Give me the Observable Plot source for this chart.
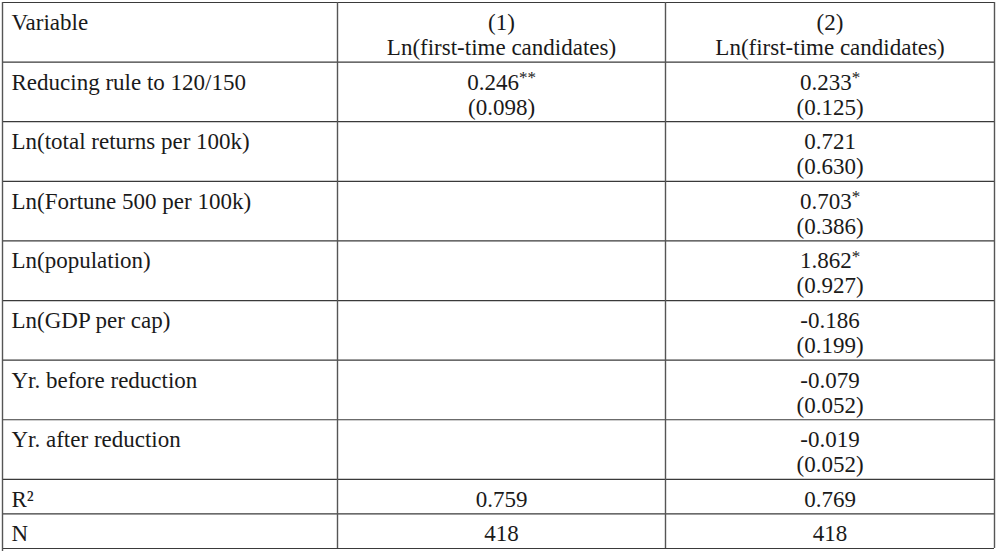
<!DOCTYPE html>
<html>
<head>
<meta charset="utf-8">
<script src="https://cdn.jsdelivr.net/npm/d3@7"></script>
<script src="https://cdn.jsdelivr.net/npm/@observablehq/plot@0.6"></script>
<style>
  body { margin: 0; background: #fff; }
</style>
</head>
<body>
<div id="table"></div>
<script>
const variables = ["Reducing rule to 120/150", "Ln(total returns per 100k)", "Ln(Fortune 500 per 100k)",
    "Ln(population)", "Ln(GDP per cap)", "Yr. before reduction", "Yr. after reduction"]
const models = ["(1)", "(2)"]
const depVar = "Ln(first-time candidates)"

// coeficientes y errores estandar por modelo
const coef1 = [0.246, null, null, null, null, null, null]
const stars1 = ["**", "", "", "", "", "", ""]
const se1 = [0.098, null, null, null, null, null, null]
const coef2 = [0.233, 0.721, 0.703, 1.862, -0.186, -0.079, -0.019]
const stars2 = ["*", "", "*", "*", "", "", ""]
const se2 = [0.125, 0.630, 0.386, 0.927, 0.199, 0.052, 0.052]

const statNames = ["R²", "N"]
const stat1 = [0.759, 418]
const stat2 = [0.769, 418]

const fmt = v => v < 0 ? "-" + Math.abs(v).toFixed(3) : v.toFixed(3)
const fmtStat = v => Number.isInteger(v) ? String(v) : v.toFixed(3)
const cell = (c, s, e) => c == null ? [] : [fmt(c) + s, "(" + fmt(e) + ")"]

let rows = [{ cells: [["Variable"], [models[0], depVar], [models[1], depVar]] }]
variables.forEach((v, i) => rows.push({ cells: [[v], cell(coef1[i], stars1[i], se1[i]), cell(coef2[i], stars2[i], se2[i])] }))
statNames.forEach((s, i) => rows.push({ cells: [[s], [fmtStat(stat1[i])], [fmtStat(stat2[i])]] }))

// alto de cada fila en "lineas" de texto
const pad = 0.38
let acc = 0
rows.forEach(r => {
    r.lines = d3.max(r.cells, c => c.length)
    r.start = acc
    acc += r.lines + pad
})
const total = acc

let texts = []
rows.forEach(r => r.cells.forEach((c, col) => c.forEach((t, j) => {
    texts.push({ col, y: r.start + 0.8 + j, text: t })
})))

const lines = rows.map(r => r.start).concat([total])
const serif = "'Liberation Serif', 'DejaVu Serif', serif"

let table = Plot.plot({
    width: 998,
    height: 551,
    marginTop: 2,
    marginBottom: 3,
    x: { type: "linear", domain: [0, 1, 2, 3], range: [2, 337, 665, 994], axis: null },
    y: { domain: [0, total], reverse: true, axis: null },
    style: { fontFamily: serif, background: "#fff" },
    marks: [
        Plot.ruleY(lines, { y: d => d, x1: 0, x2: 3, stroke: "#3a3a3a", strokeWidth: 1.2 }),
        Plot.ruleX([0, 1, 2, 3], { x: d => d, y1: 0, y2: d => d == 0 ? total + 0.3 : total, stroke: "#555", strokeWidth: 1.4 }),
        Plot.text(texts.filter(d => d.col == 0), {
            x: 0, y: "y", text: "text", textAnchor: "start", dx: 9,
            fontFamily: serif, fontSize: 23, fill: "#1a1a1a", lineAnchor: "middle"
        }),
        Plot.text(texts.filter(d => d.col > 0), {
            x: d => d.col + 0.5, y: "y", text: "text",
            fontFamily: serif, fontSize: 23, fill: "#1a1a1a", lineAnchor: "middle"
        }),
    ],
})

// estrellas como superindice
d3.select(table).selectAll("text").each(function () {
    let m = this.textContent.match(/^(.*?)(\*+)$/)
    if (m) {
        this.textContent = m[1]
        d3.select(this).append("tspan").attr("font-size", 17).attr("dy", "-0.4em").text(m[2])
    }
})

d3.select('#table').append(() => table)
</script>
</body>
</html>
